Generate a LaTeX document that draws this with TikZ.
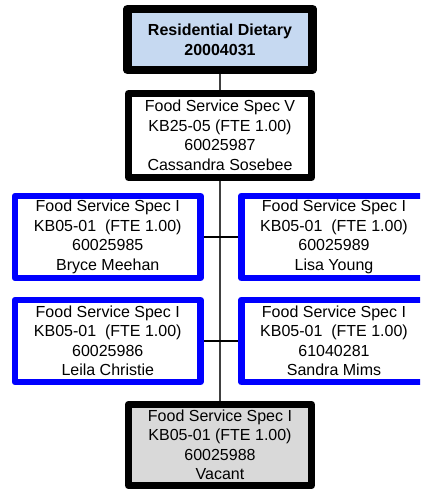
\documentclass[tikz,border=0pt]{standalone}
\usepackage{fontspec}
\setmainfont{Liberation Sans}
\begin{document}
\begin{tikzpicture}[x=1pt, y=-1pt,
  box/.style={draw, line join=round, inner sep=0pt, align=center,
    font=\fontsize{16}{19.5}\selectfont},
  headbox/.style={box, line width=8.5pt, fill=lightblue,
    minimum width=185pt, minimum height=61pt,
    font=\bfseries\fontsize{16}{20}\selectfont},
  leadbox/.style={box, line width=7pt, fill=white,
    minimum width=183pt, minimum height=84pt},
  staffbox/.style={box, draw=staffblue, line width=6.5pt, fill=white,
    minimum width=185.5pt, minimum height=82pt},
  vacantbox/.style={box, line width=7pt, fill=vacantgray,
    minimum width=183pt, minimum height=81.5pt},
  spine/.style={draw=black!75, line width=1.5pt},
  link/.style={draw, line width=1.2pt}]
  \definecolor{lightblue}{RGB}{198,217,241}
  \definecolor{staffblue}{RGB}{0,0,255}
  \definecolor{vacantgray}{RGB}{217,217,217}
  \useasboundingbox (0,0) rectangle (420,489);
  \clip (0,0) rectangle (420,489);

  \node[headbox] (dietary) at (220, 39.5) {Residential Dietary\\20004031};
  \node[leadbox] (specv) at (220, 135.5)
    {Food Service Spec V\\KB25-05 (FTE 1.00)\\60025987\\Cassandra Sosebee};
  \node[vacantbox] (vacant) at (220, 445)
    {Food Service Spec I\\KB05-01 (FTE 1.00)\\60025988\\Vacant};

  % spine behind the boxes
  \path[spine] (dietary) -- (specv);
  \path[spine] (specv) -- (vacant);

  \node[staffbox] (meehan) at (107.75, 237)
    {Food Service Spec I\\KB05-01~~(FTE 1.00)\\60025985\\Bryce Meehan};
  \node[staffbox] (young) at (334, 237)
    {Food Service Spec I\\KB05-01~~(FTE 1.00)\\60025989\\Lisa Young};
  \node[staffbox] (christie) at (107.75, 341)
    {Food Service Spec I\\KB05-01~~(FTE 1.00)\\60025986\\Leila Christie};
  \node[staffbox] (mims) at (334, 341)
    {Food Service Spec I\\KB05-01~~(FTE 1.00)\\61040281\\Sandra Mims};

  \path[link] (meehan) -- (young);
  \path[link] (christie) -- (mims);
\end{tikzpicture}
\end{document}
